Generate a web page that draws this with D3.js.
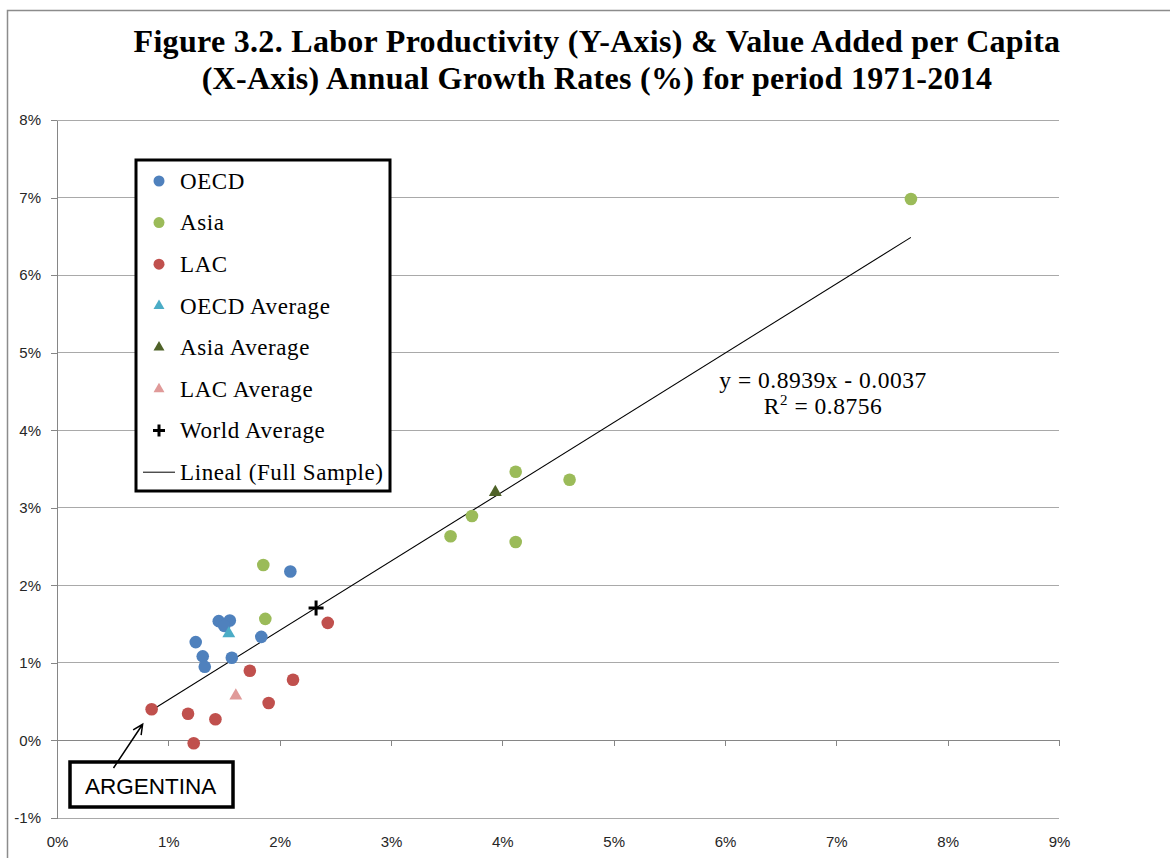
<!DOCTYPE html>
<meta charset="utf-8">
<style>
  body { margin: 0; background: #fff; }
  .title { font: bold 32px "Liberation Serif", serif; text-anchor: middle; fill: #000; letter-spacing: 0.3px; }
  .axis text { font: 15px "Liberation Sans", Arial, sans-serif; fill: #262626; }
  .axis path, .axis line { stroke: #868686; shape-rendering: crispEdges; }
  .grid line { stroke: #a9a9a9; shape-rendering: crispEdges; }
  .legend text { font: 23px "Liberation Serif", serif; fill: #000; letter-spacing: 0.6px; }
  .eq { font: 23.5px "Liberation Serif", serif; fill: #000; letter-spacing: 0.5px; }
  .note { font: 22.5px "Liberation Sans", Arial, sans-serif; fill: #000; }
</style>
<svg width="1170" height="858"></svg>
<script src="https://d3js.org/d3.v7.min.js"></script>
<script>

  // growth rates in %, [value added per capita, labor productivity]
  var oecd = [[2.096,2.178],[1.453,1.538],[1.552,1.547],[1.502,1.477],[1.246,1.268],
              [1.835,1.336],[1.309,1.084],[1.327,0.950],[1.570,1.066]];
  var asia = [[1.853,2.263],[1.871,1.568],[4.120,3.465],[4.604,3.362],[3.727,2.894],
              [3.535,2.632],[4.120,2.559],[7.670,6.982]];
  var lac  = [[2.432,1.516],[1.732,0.898],[2.120,0.782],[1.901,0.483],[0.850,0.402],
              [1.177,0.345],[1.423,0.273],[1.228,-0.036]];
  var oecdAvg = [[1.543,1.378]];
  var asiaAvg = [[3.937,3.200]];
  var lacAvg  = [[1.606,0.576]];
  var worldAvg = [[2.327,1.709]];
  var argentina = [0.850,0.402];

  var slope = 0.8939, intercept = -0.0037;   // fitted on fractions
  var r2 = 0.8756;

  var xTicks = [0,1,2,3,4,5,6,7,8,9];
  var yTicks = [-1,0,1,2,3,4,5,6,7,8];
  var titleLines = ["Figure 3.2. Labor Productivity (Y-Axis) & Value Added per Capita",
                    "(X-Axis) Annual Growth Rates (%) for period 1971-2014"];
  var legendItems = ["OECD","Asia","LAC","OECD Average","Asia Average","LAC Average","World Average","Lineal (Full Sample)"];

  var colors = {
    oecd: "#4f81bd", asia: "#9bbb59", lac: "#c0504d",
    oecdAvg: "#4bacc6", asiaAvg: "#4f6228", lacAvg: "#e09a99", world: "#000"
  };

  var svg = d3.select("svg");

  var x = d3.scaleLinear().domain([0, 9]).range([57, 1059]);
  var y = d3.scaleLinear().domain([-1, 8]).range([818, 120]);

  // outer chart border (left and top only visible)
  svg.append("path")
      .attr("d", "M7.5,858V10.5H1170")
      .attr("fill", "none")
      .attr("stroke", "#8c8c8c")
      .attr("stroke-width", 1.5);

  // title
  svg.selectAll(".title")
      .data(titleLines)
      .enter().append("text")
      .attr("class", "title")
      .attr("x", 597)
      .attr("y", function(d, i) { return 52 + i * 36.5; })
      .text(function(d) { return d; });

  // horizontal gridlines
  svg.append("g")
      .attr("class", "grid")
      .selectAll("line")
      .data(yTicks.filter(function(d) { return d !== 0; }))
      .enter().append("line")
      .attr("x1", x(0)).attr("x2", x(9))
      .attr("y1", function(d) { return y(d); })
      .attr("y2", function(d) { return y(d); });

  // y axis
  svg.append("g")
      .attr("class", "axis")
      .attr("transform", "translate(" + x(0) + ",0)")
      .call(d3.axisLeft(y).tickValues(yTicks).tickSize(6).tickSizeOuter(0).tickPadding(10)
              .tickFormat(function(d) { return d + "%"; }));

  // x axis line at 0%
  svg.append("g")
      .attr("class", "axis")
      .attr("transform", "translate(0," + y(0) + ")")
      .call(d3.axisBottom(x).tickValues(xTicks).tickSize(6).tickSizeOuter(0).tickFormat(""));

  // x tick labels below the plot
  var xl = svg.append("g")
      .attr("class", "axis")
      .attr("transform", "translate(0," + y(-1) + ")")
      .call(d3.axisBottom(x).tickValues(xTicks).tickSize(0).tickPadding(18)
              .tickFormat(function(d) { return d + "%"; }));
  xl.select(".domain").remove();

  // trend line
  var allX = oecd.concat(asia, lac).map(function(d) { return d[0]; });
  var xMin = d3.min(allX), xMax = d3.max(allX);
  function fit(v) { return (slope * v / 100 + intercept) * 100; }
  svg.append("line")
      .attr("x1", x(xMin)).attr("y1", y(fit(xMin)))
      .attr("x2", x(xMax)).attr("y2", y(fit(xMax)))
      .attr("stroke", "#000")
      .attr("stroke-width", 1.1);

  // points
  function dots(data, color) {
    svg.append("g").selectAll("circle")
        .data(data)
        .enter().append("circle")
        .attr("cx", function(d) { return x(d[0]); })
        .attr("cy", function(d) { return y(d[1]); })
        .attr("r", 6.3)
        .attr("fill", color);
  }
  dots(oecd, colors.oecd);
  dots(asia, colors.asia);
  dots(lac, colors.lac);

  var tri = d3.symbol().type(d3.symbolTriangle).size(72);
  function triangles(data, color) {
    svg.append("g").selectAll("path")
        .data(data)
        .enter().append("path")
        .attr("d", tri)
        .attr("transform", function(d) { return "translate(" + x(d[0]) + "," + y(d[1]) + ")"; })
        .attr("fill", color);
  }
  triangles(oecdAvg, colors.oecdAvg);
  triangles(asiaAvg, colors.asiaAvg);
  triangles(lacAvg, colors.lacAvg);

  svg.append("g").selectAll("path")
      .data(worldAvg)
      .enter().append("path")
      .attr("d", "M-7.5,0H7.5M0,-7.5V7.5")
      .attr("transform", function(d) { return "translate(" + x(d[0]) + "," + y(d[1]) + ")"; })
      .attr("stroke", colors.world)
      .attr("stroke-width", 3);

  // regression equation
  var eq = svg.append("text")
      .attr("class", "eq")
      .attr("text-anchor", "middle");
  eq.append("tspan")
      .attr("x", 823).attr("y", 388)
      .text("y = " + slope + "x - " + Math.abs(intercept).toFixed(4));
  var r2line = eq.append("tspan").attr("x", 823).attr("y", 413.5);
  r2line.append("tspan").text("R");
  r2line.append("tspan").attr("dy", -9).style("font-size", "15px").text("2");
  r2line.append("tspan").attr("dy", 9).text(" = " + r2);

  // legend
  var legend = svg.append("g").attr("class", "legend");
  legend.append("rect")
      .attr("x", 136).attr("y", 160)
      .attr("width", 254).attr("height", 331)
      .attr("fill", "#fff")
      .attr("stroke", "#000")
      .attr("stroke-width", 3);

  var legendSym = [
    {type: "dot", color: colors.oecd},
    {type: "dot", color: colors.asia},
    {type: "dot", color: colors.lac},
    {type: "tri", color: colors.oecdAvg},
    {type: "tri", color: colors.asiaAvg},
    {type: "tri", color: colors.lacAvg},
    {type: "plus", color: colors.world},
    {type: "line", color: "#000"}
  ];
  var smallTri = d3.symbol().type(d3.symbolTriangle).size(52);

  var row = legend.selectAll(".row")
      .data(legendItems)
      .enter().append("g")
      .attr("class", "row")
      .attr("transform", function(d, i) { return "translate(159," + (181 + i * 41.6) + ")"; });

  row.each(function(d, i) {
    var g = d3.select(this), s = legendSym[i];
    if (s.type === "dot") g.append("circle").attr("r", 5.5).attr("fill", s.color);
    if (s.type === "tri") g.append("path").attr("d", smallTri).attr("fill", s.color);
    if (s.type === "plus") g.append("path").attr("d", "M-6,0H6M0,-6V6")
        .attr("stroke", s.color).attr("stroke-width", 3);
    if (s.type === "line") g.append("line").attr("x1", -16).attr("x2", 16)
        .attr("stroke", s.color).attr("stroke-width", 1);
  });

  row.append("text")
      .attr("x", 21)
      .attr("dy", "0.34em")
      .text(function(d) { return d; });

  // Argentina callout
  var note = svg.append("g");
  note.append("rect")
      .attr("x", 70).attr("y", 762)
      .attr("width", 163).attr("height", 45)
      .attr("fill", "#fff")
      .attr("stroke", "#000")
      .attr("stroke-width", 3.5);
  note.append("text")
      .attr("class", "note")
      .attr("x", 85).attr("y", 794)
      .text("ARGENTINA");

  var tipX = x(argentina[0]) - 9, tipY = y(argentina[1]) + 15;
  var tailX = 113.5, tailY = 768;
  var ang = Math.atan2(tipY - tailY, tipX - tailX);
  var head = 11, spread = 0.45;
  note.append("path")
      .attr("d", "M" + tailX + "," + tailY + "L" + tipX + "," + tipY +
                 "M" + (tipX - head * Math.cos(ang - spread)) + "," + (tipY - head * Math.sin(ang - spread)) +
                 "L" + tipX + "," + tipY +
                 "L" + (tipX - head * Math.cos(ang + spread)) + "," + (tipY - head * Math.sin(ang + spread)))
      .attr("fill", "none")
      .attr("stroke", "#000")
      .attr("stroke-width", 1.5);

</script>
